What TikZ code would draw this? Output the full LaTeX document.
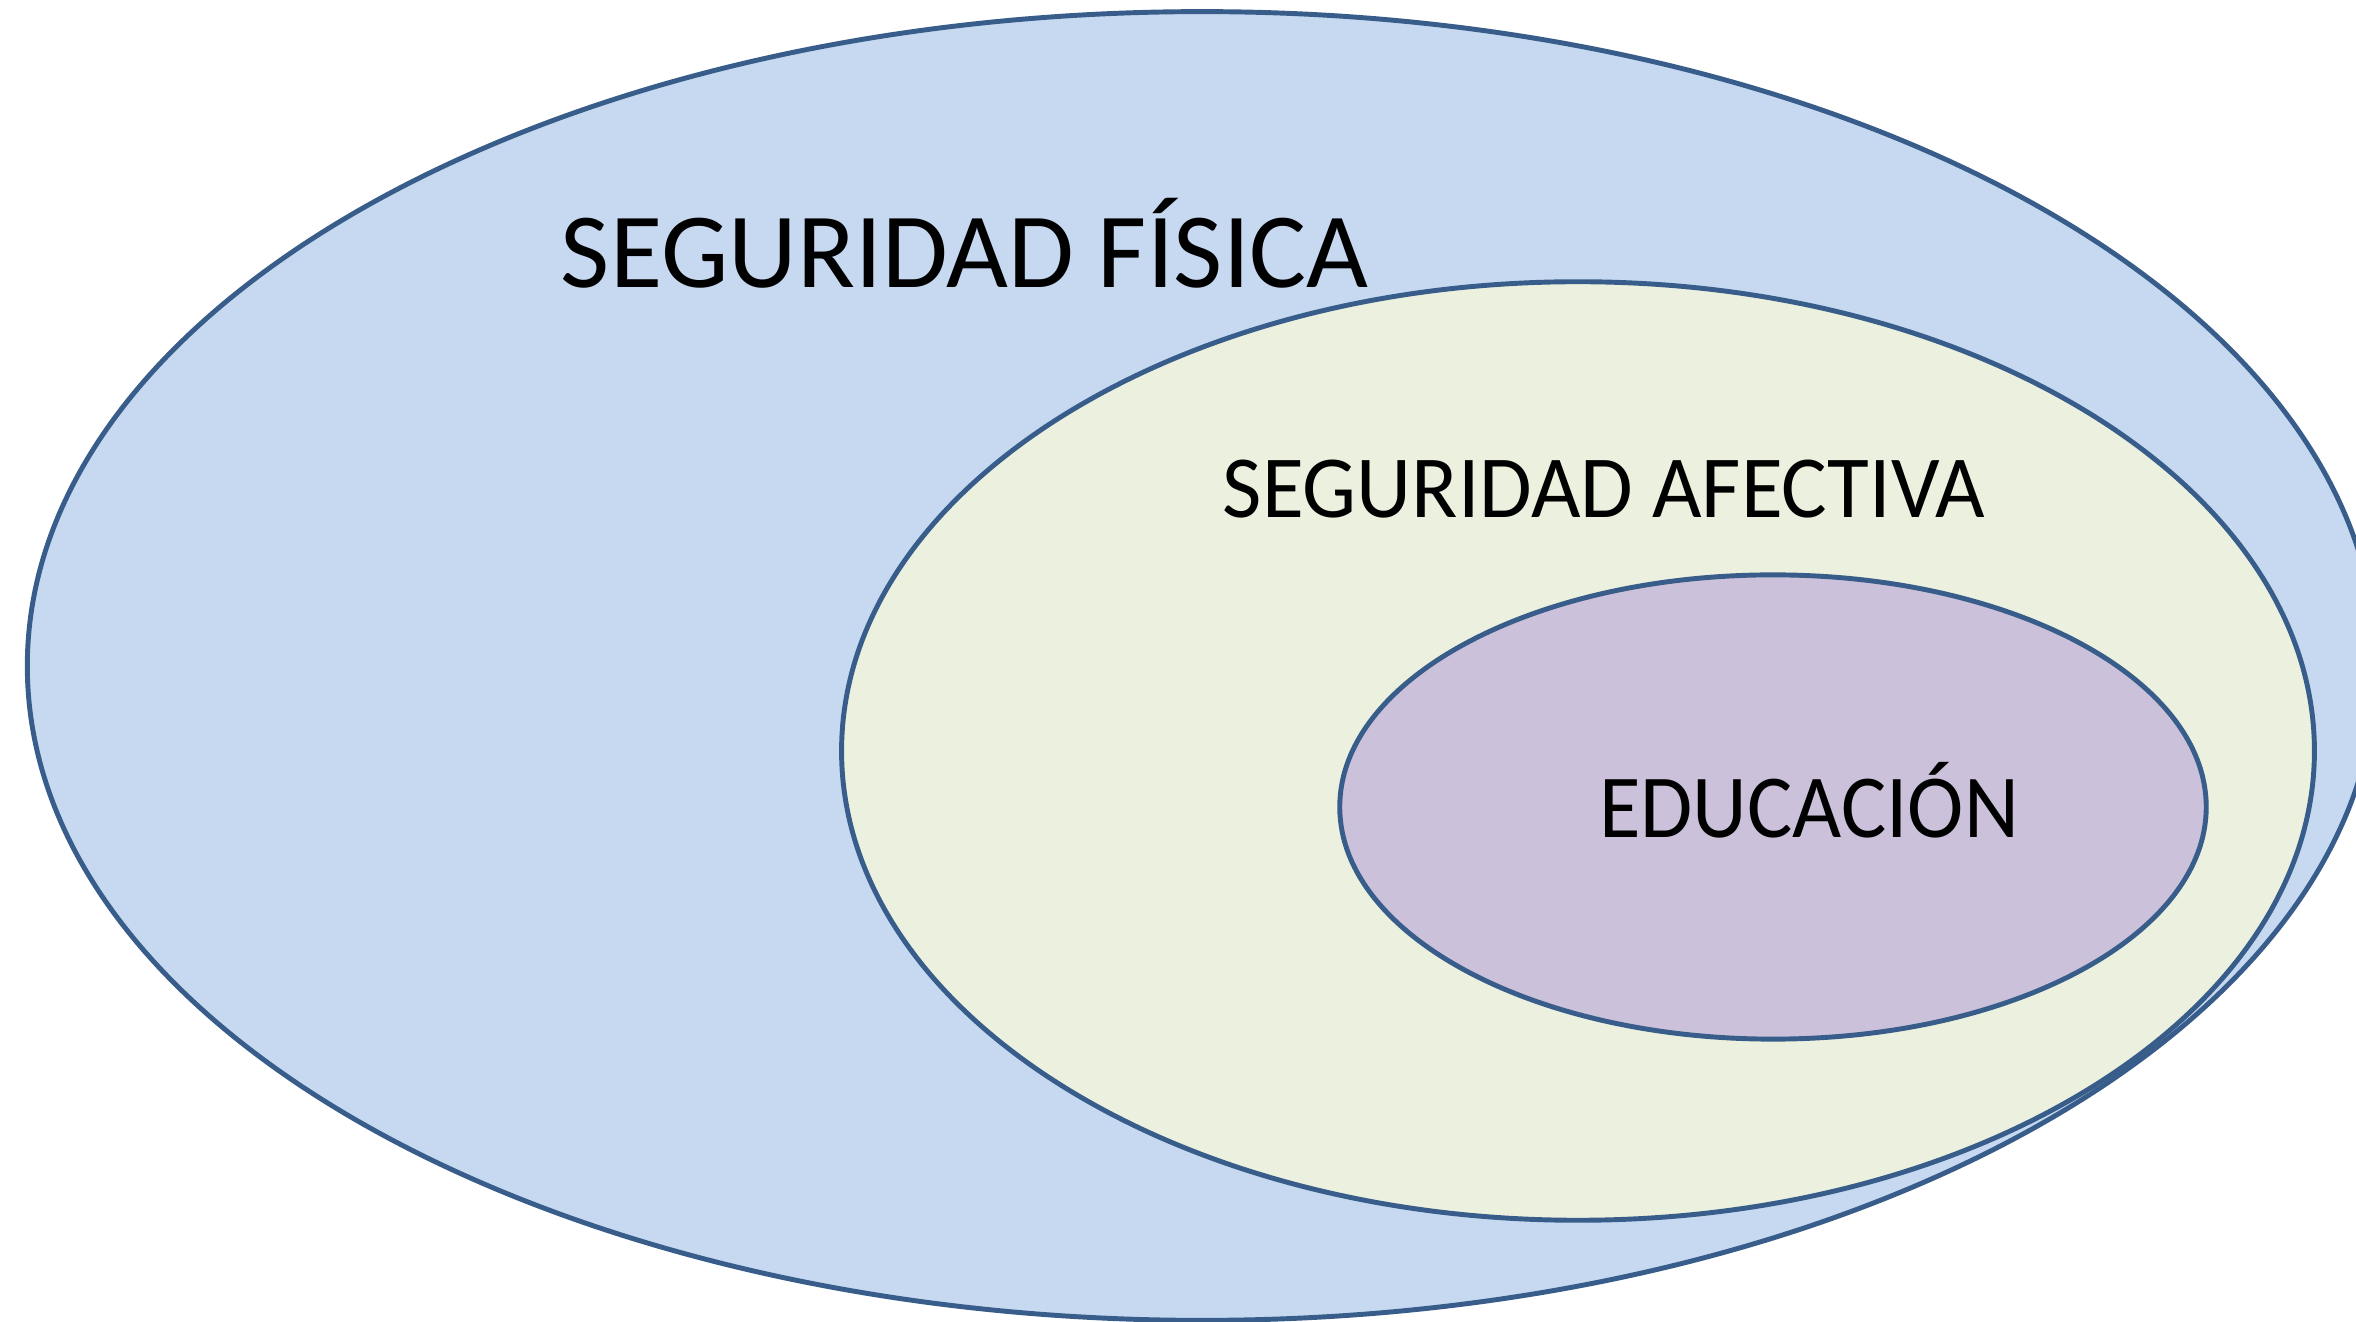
\documentclass[tikz,border=0pt]{standalone}
\usepackage{graphicx}
\usepackage{fontspec}
\setmainfont{Carlito}
\usetikzlibrary{shapes.geometric}
\definecolor{linec}{HTML}{385D8A}
\definecolor{outerf}{HTML}{C6D9F1}
\definecolor{midf}{HTML}{EBF1DE}
\definecolor{innf}{HTML}{CCC1DA}
\tikzset{
  oval/.style={ellipse, draw=linec, line width=1.4pt, inner sep=0pt},
  lbl/.style={anchor=base, text=black, inner sep=0pt}
}
\begin{document}
\begin{tikzpicture}[x=0.01cm, y=-0.01cm]
\useasboundingbox (0,0) rectangle (2356,1322);
\clip (0,0) rectangle (2356,1322);
\node[oval, fill=outerf, minimum width=23.48cm, minimum height=13.08cm] (outer) at (1202,666) {};
\node[oval, fill=midf, minimum width=14.72cm, minimum height=9.38cm] (middle) at (1578,751) {};
\node[oval, fill=innf, minimum width=8.66cm, minimum height=4.64cm] (inner) at (1773,807) {};
\node[lbl, font=\fontsize{30.4}{36}\selectfont] (fisica) at (965,288) {SEGURIDAD FÍSICA};
\node[lbl, font=\fontsize{25.2}{30}\selectfont] (afectiva) at (1604,518) {\scalebox{0.965}[1]{SEGURIDAD AFECTIVA}};
\node[lbl, font=\fontsize{25.6}{30}\selectfont] (educacion) at (1809,838) {\scalebox{0.943}[1]{EDUCACIÓN}};
\end{tikzpicture}
\end{document}
